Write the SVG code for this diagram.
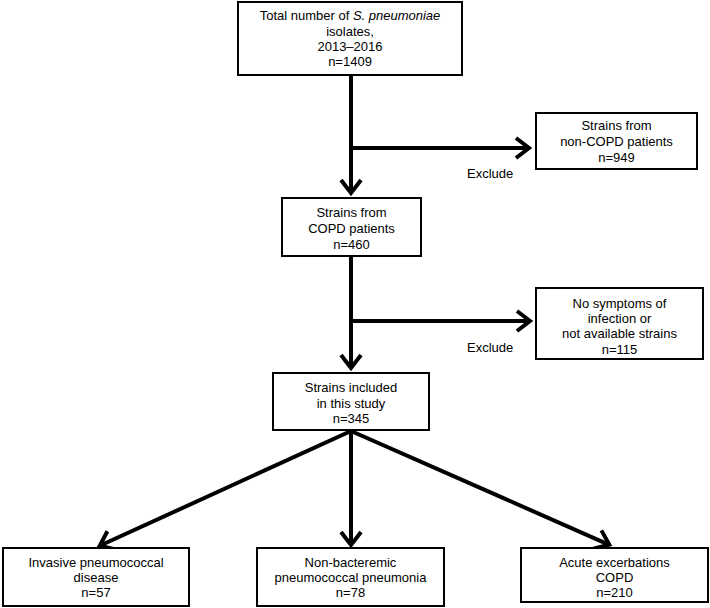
<svg xmlns="http://www.w3.org/2000/svg" width="710" height="608" viewBox="0 0 710 608">
<defs>
<style>
.box{fill:#fff;stroke:#000;stroke-width:2}
.t{font-family:"Liberation Sans",Arial,sans-serif;font-size:13px;fill:#000;text-anchor:middle}
.lbl{font-family:"Liberation Sans",Arial,sans-serif;font-size:13px;fill:#000}
.c{fill:none;stroke:#000;stroke-width:4}
</style>
<marker id="arr" markerUnits="userSpaceOnUse" viewBox="-20 -15 25 30" refX="0" refY="0" markerWidth="25" markerHeight="30" orient="auto" overflow="visible">
<path d="M-13,-10 L0,0 L-13,10" fill="none" stroke="#000" stroke-width="4"/>
</marker>
</defs>
<rect width="710" height="608" fill="#fff"/>
<g id="connectors">
<line class="c" x1="351" y1="75" x2="351" y2="193" marker-end="url(#arr)"/>
<line class="c" x1="351" y1="148" x2="529" y2="148" marker-end="url(#arr)"/>
<line class="c" x1="351" y1="256" x2="351" y2="368" marker-end="url(#arr)"/>
<line class="c" x1="351" y1="321" x2="530" y2="321" marker-end="url(#arr)"/>
<line class="c" x1="351" y1="431" x2="99.7" y2="545.8" marker-end="url(#arr)"/>
<line class="c" x1="351" y1="431" x2="351" y2="545" marker-end="url(#arr)"/>
<line class="c" x1="351" y1="431" x2="609.3" y2="544.8" marker-end="url(#arr)"/>
<text class="lbl" x="467" y="178">Exclude</text>
<text class="lbl" x="467" y="352">Exclude</text>
</g>
<g id="total">
<rect class="box" x="238" y="2" width="224" height="73"/>
<text class="t" x="350" y="20">Total number of <tspan font-style="italic">S. pneumoniae</tspan></text>
<text class="t" x="350" y="36">isolates,</text>
<text class="t" x="350" y="51">2013–2016</text>
<text class="t" x="350" y="66">n=1409</text>
</g>
<g id="noncopd">
<rect class="box" x="536" y="113" width="161" height="56"/>
<text class="t" x="616.5" y="130">Strains from</text>
<text class="t" x="616.5" y="146">non-COPD patients</text>
<text class="t" x="616.5" y="162">n=949</text>
</g>
<g id="copd">
<rect class="box" x="282" y="198" width="139" height="58"/>
<text class="t" x="351.5" y="217">Strains from</text>
<text class="t" x="351.5" y="233">COPD patients</text>
<text class="t" x="351.5" y="249">n=460</text>
</g>
<g id="nosymptoms">
<rect class="box" x="536" y="288" width="167" height="71"/>
<text class="t" x="619.5" y="308">No symptoms of</text>
<text class="t" x="619.5" y="323">infection or</text>
<text class="t" x="619.5" y="338">not available strains</text>
<text class="t" x="619.5" y="354">n=115</text>
</g>
<g id="included">
<rect class="box" x="273" y="373" width="156" height="57"/>
<text class="t" x="351" y="392">Strains included</text>
<text class="t" x="351" y="408">in this study</text>
<text class="t" x="351" y="423">n=345</text>
</g>
<g id="ipd">
<rect class="box" x="3" y="548" width="186" height="58"/>
<text class="t" x="96" y="567">Invasive pneumococcal</text>
<text class="t" x="96" y="582">disease</text>
<text class="t" x="96" y="597">n=57</text>
</g>
<g id="nbpp">
<rect class="box" x="257" y="548" width="187" height="58"/>
<text class="t" x="350.5" y="567">Non-bacteremic</text>
<text class="t" x="350.5" y="582">pneumococcal pneumonia</text>
<text class="t" x="350.5" y="597">n=78</text>
</g>
<g id="aecopd">
<rect class="box" x="521" y="548" width="187" height="54"/>
<text class="t" x="614.5" y="567">Acute excerbations</text>
<text class="t" x="614.5" y="582">COPD</text>
<text class="t" x="614.5" y="597">n=210</text>
</g>
</svg>
